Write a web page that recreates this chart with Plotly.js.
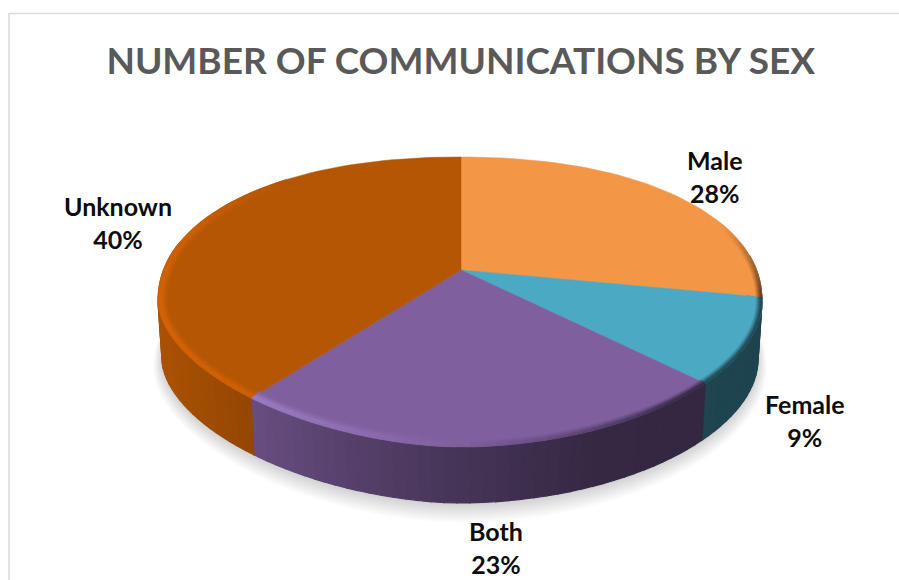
<!DOCTYPE html>
<html>
<head>
<meta charset="utf-8">
<script src="https://cdn.plot.ly/plotly-3.0.1.min.js"></script>
<style>html,body{margin:0;padding:0;background:#fff}#chart{width:899px;height:580px}</style>
</head>
<body>
<div id="chart"></div>
<script>
// ---- data ----
const categories = ["Male", "Female", "Both", "Unknown"];
const values = [28.0, 9.4, 23.09, 39.51];
const chartTitle = "NUMBER OF COMMUNICATIONS BY SEX";
// ---- styles ----
const faceColors = [[243,150,70],[75,169,196],[127,95,158],[180,86,4]];
const lightColors = [[243,150,70],[75,169,196],[168,138,212],[214,100,8]];

// ---- projection of the tilted disc onto the axes ----
const apex = [461, 270], topE = {cx:460, cy:302, rx:302, ry:145};
const botE = {cx:460, cy:360, rx:298, ry:143};
const PC = -0.2207, PA = 78.35, PR = 294.6;
function dir(deg){
  const a = deg*Math.PI/180, s = Math.sin(a), t = -Math.cos(a), d = 1+PC*t;
  return [(apex[0]+PR*s/d-topE.cx)/topE.rx, ((PA*t+apex[1])/d-topE.cy)/topE.ry];
}
// w = inset from the rim, in axis units
function onDisc(deg, e, w){
  const [u,v] = dir(deg);
  const p = v>0 ? (u>0 ? 1.92 : 1.78) : 2.15;
  const k = Math.pow(Math.pow(Math.abs(u),p)+Math.pow(Math.abs(v),p),-1/p);
  const g = w||0;
  return [e.cx+(e.rx-g)*u*k, e.cy+(e.ry-g)*v*k];
}
const rgb = c => `rgb(${c.map(Math.round).join(",")})`;
const mix = (a,b,f) => a.map((x,i)=>x+(b[i]-x)*f);
function sideShade(x){
  const xs=[157,250,330,460,600,763], ks=[.95,.82,.70,.55,.42,.40];
  for(let i=0;i<xs.length-1;i++) if(x<=xs[i+1]){
    return ks[i]+(ks[i+1]-ks[i])*Math.max(0,(x-xs[i]))/(xs[i+1]-xs[i]);
  }
  return ks[ks.length-1];
}
function poly(pts,color,w){
  return {type:"scatter",mode:"lines",x:pts.map(p=>p[0]).concat(pts[0][0]),y:pts.map(p=>p[1]).concat(pts[0][1]),
    fill:"toself",fillcolor:color,line:{color:color,width:w===undefined?0.7:w},hoverinfo:"skip",showlegend:false};
}
const traces = [];
// soft shadow
for(let i=0;i<9;i++){
  const e={cx:botE.cx,cy:botE.cy+2+i*0.9,rx:botE.rx+i*1.1,ry:botE.ry+i*1.3}, pts=[];
  for(let d=0;d<360;d+=4) pts.push(onDisc(d,e));
  traces.push(poly(pts,"rgba(0,0,0,0.021)",0));
}
// slice limits
const total = values.reduce((a,b)=>a+b,0);
const starts=[]; let acc=0;
values.forEach(v=>{starts.push(acc/total*360); acc+=v;});
const STEP=2;
function spans(i){
  const a=starts[i], b=a+values[i]/total*360, out=[];
  for(let d=a;d<b-1e-6;d+=STEP) out.push([d,Math.min(d+STEP,b)]);
  return out;
}
// side wall
values.forEach((_,i)=>{
  spans(i).forEach(([a,b])=>{
    if(b<85||a>280) return;
    const p1=onDisc(a,topE),p2=onDisc(b,topE),q2=onDisc(b,botE),q1=onDisc(a,botE);
    const k=sideShade((p1[0]+p2[0])/2);
    traces.push(poly([p1,p2,q2,q1],rgb(faceColors[i].map(c=>c*k)),1.2));
  });
});
// top faces
values.forEach((_,i)=>{
  const pts=[apex]; const sp=spans(i);
  sp.forEach(([a])=>pts.push(onDisc(a,topE)));
  pts.push(onDisc(sp[sp.length-1][1],topE));
  traces.push(poly(pts,rgb(faceColors[i]),0.5));
});
// bevelled rim
function rimLight(d){
  if(d>=180&&d<=320) return Math.cos((d-250)*Math.PI/2/70);
  if(d<180&&d>=140) return -(180-d)/40;
  if(d<140&&d>=100) return -1;
  if(d<100&&d>=70) return -(d-70)/30;
  return 0;
}
const lightBand=[[10,8,.15],[8,6,.4],[6,4,.7],[4,2,.95],[2,0,.85]];
const darkBand=[[6,4.5,.2],[4.5,3,.5],[3,1.5,.8],[1.5,0,1]];
values.forEach((_,i)=>{
  spans(i).forEach(([a,b])=>{
    const L=rimLight((a+b)/2);
    if(Math.abs(L)<0.03) return;
    const dark=faceColors[i].map(c=>c*0.42);
    (L>0?lightBand:darkBand).forEach(([w1,w2,al])=>{
      const target=L>0?lightColors[i]:dark;
      const c=mix(faceColors[i],target,Math.abs(L)*al);
      traces.push(poly([onDisc(a,topE,w1),onDisc(b,topE,w1),onDisc(b,topE,w2),onDisc(a,topE,w2)],rgb(c),0.5));
    });
  });
});
// labels
const labelPlaces=[[715,176],[805,420],[496,547],[118,222]];
const annotations=categories.map((c,i)=>({
  x:labelPlaces[i][0],y:labelPlaces[i][1],xref:"x",yref:"y",showarrow:false,
  text:`<b>${c}<br>${Math.round(values[i]/total*100)}%</b>`,
  font:{family:"Lato, 'Open Sans', sans-serif",size:25,color:"#0d0d0d"},align:"center",xanchor:"center",yanchor:"middle"
}));
const layout={
  width:899,height:580,margin:{l:0,r:0,t:0,b:0},paper_bgcolor:"#fff",plot_bgcolor:"#fff",showlegend:false,
  title:{text:"<b>"+chartTitle+"</b>",x:0.5125,xanchor:"center",y:0.895,yanchor:"middle",
    font:{family:"Lato, 'Open Sans', sans-serif",size:37,color:"#595959"}},
  xaxis:{range:[0,899],visible:false,fixedrange:true},
  yaxis:{range:[580,0],visible:false,fixedrange:true},
  shapes:[
    {type:"line",xref:"x",yref:"y",x0:9,x1:899,y0:13.5,y1:13.5,line:{color:"#d9d9d9",width:1.5}},
    {type:"line",xref:"x",yref:"y",x0:9,x1:9,y0:13,y1:580,line:{color:"#d9d9d9",width:1.5}}
  ],
  annotations
};
Plotly.newPlot("chart",traces,layout,{displayModeBar:false,staticPlot:true});
</script>
</body>
</html>
